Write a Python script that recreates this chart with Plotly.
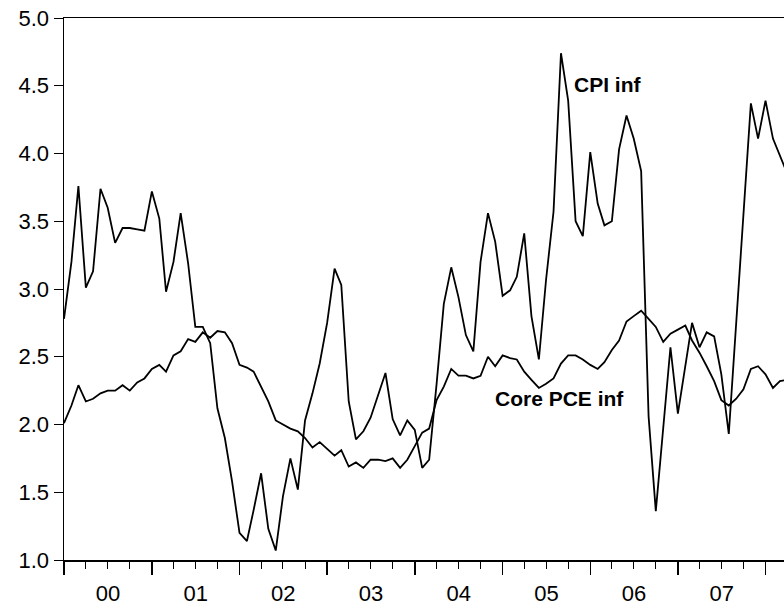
import pandas as pd
import plotly.graph_objects as go

start_month = "2000-01-01"
cpi_inf = [2.78, 3.20, 3.76, 3.01, 3.13, 3.74, 3.60, 3.34, 3.45, 3.45,
           3.44, 3.43, 3.72, 3.52, 2.98, 3.20, 3.56, 3.19, 2.72, 2.72,
           2.60, 2.12, 1.90, 1.58, 1.20, 1.14, 1.37, 1.64, 1.23, 1.07,
           1.47, 1.75, 1.52, 2.03, 2.23, 2.45, 2.75, 3.15, 3.03, 2.17,
           1.89, 1.95, 2.05, 2.21, 2.38, 2.04, 1.92, 2.03, 1.96, 1.68,
           1.74, 2.30, 2.89, 3.16, 2.94, 2.66, 2.54, 3.20, 3.56, 3.35,
           2.95, 2.99, 3.09, 3.41, 2.80, 2.48, 3.07, 3.57, 4.74, 4.39,
           3.50, 3.39, 4.01, 3.63, 3.47, 3.50, 4.03, 4.28, 4.11, 3.87,
           2.06, 1.36, 1.96, 2.57, 2.08, 2.43, 2.75, 2.57, 2.68, 2.65,
           2.37, 1.93, 2.75, 3.55, 4.37, 4.11, 4.39, 4.11, 3.98, 3.85]
core_pce_inf = [2.01, 2.14, 2.29, 2.17, 2.19, 2.23, 2.25, 2.25, 2.29, 2.25,
                2.31, 2.34, 2.41, 2.44, 2.39, 2.51, 2.54, 2.63, 2.61, 2.68,
                2.64, 2.69, 2.68, 2.60, 2.44, 2.42, 2.39, 2.28, 2.17, 2.03,
                2.00, 1.97, 1.95, 1.90, 1.83, 1.87, 1.82, 1.77, 1.81, 1.69,
                1.72, 1.68, 1.74, 1.74, 1.73, 1.75, 1.68, 1.74, 1.84, 1.94,
                1.97, 2.18, 2.28, 2.41, 2.36, 2.36, 2.34, 2.36, 2.50, 2.43,
                2.51, 2.49, 2.48, 2.39, 2.33, 2.27, 2.30, 2.34, 2.45, 2.51,
                2.51, 2.48, 2.44, 2.41, 2.46, 2.55, 2.62, 2.76, 2.80, 2.84,
                2.78, 2.72, 2.61, 2.67, 2.70, 2.73, 2.62, 2.53, 2.43, 2.32,
                2.18, 2.14, 2.19, 2.26, 2.41, 2.43, 2.37, 2.27, 2.32, 2.33]
months = pd.date_range(start_month, periods=len(cpi_inf), freq="MS")
y_ticks = [1.0, 1.5, 2.0, 2.5, 3.0, 3.5, 4.0, 4.5, 5.0]
label_cpi = "CPI inf"
label_core = "Core PCE inf"

FONT = "Liberation Sans, Arial, sans-serif"
line_style = dict(color="black", width=1.8)

fig = go.Figure()
fig.add_trace(go.Scatter(x=months, y=cpi_inf, mode="lines", line=line_style,
                         name=label_cpi, showlegend=False))
fig.add_trace(go.Scatter(x=months, y=core_pce_inf, mode="lines", line=line_style,
                         name=label_core, showlegend=False))

fig.add_annotation(x="2005-10-16", y=4.51, text="<b>CPI inf</b>", showarrow=False,
                   xanchor="left", yanchor="middle",
                   font=dict(family=FONT, size=21, color="black"))
fig.add_annotation(x="2004-11-22", y=2.19, text="<b>Core PCE inf</b>", showarrow=False,
                   xanchor="left", yanchor="middle",
                   font=dict(family=FONT, size=21, color="black"))

fig.update_layout(
    width=784, height=607,
    margin=dict(l=64, r=0, t=18, b=47, autoexpand=False),
    paper_bgcolor="white", plot_bgcolor="white",
    font=dict(family=FONT, size=22, color="black"),
    showlegend=False,
)
fig.update_xaxes(
    type="date", automargin=False,
    range=["2000-01-01", "2008-03-18"],
    dtick="M12", tick0="2000-01-01", tickformat="%y", ticklabelmode="period",
    ticks="outside", ticklen=13, tickwidth=1.5, tickcolor="black",
    minor=dict(dtick="M3", ticks="outside", ticklen=7, tickwidth=1, tickcolor="black"),
    showline=True, linecolor="black", linewidth=1.5, mirror=True,
    showgrid=False, zeroline=False,
    tickfont=dict(family=FONT, size=22, color="black"),
)
fig.update_yaxes(
    automargin=False,
    range=[1.0, 5.0], tickvals=y_ticks, tickformat=".1f",
    ticks="outside", ticklen=9, tickwidth=1, tickcolor="black",
    showline=True, linecolor="black", linewidth=1.5, mirror=False,
    showgrid=False, zeroline=False,
    tickfont=dict(family=FONT, size=22, color="black"),
)

fig.write_html("out.html",
               config={"displayModeBar": False, "staticPlot": True},
               post_script="document.body.style.margin='0';document.body.style.overflow='hidden';")
